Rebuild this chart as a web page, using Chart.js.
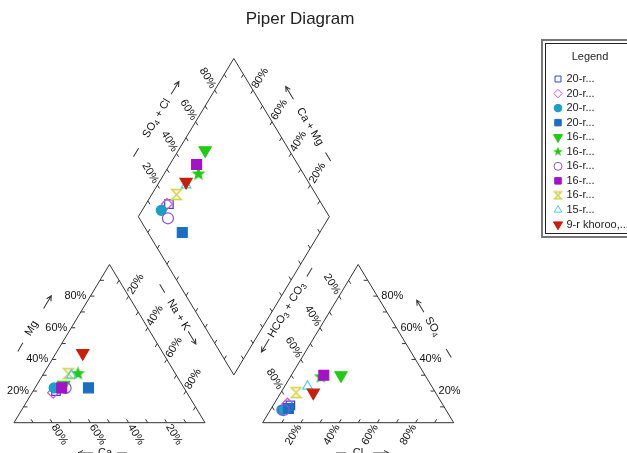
<!DOCTYPE html>
<html>
<head>
<meta charset="utf-8">
<title>Piper Diagram</title>
<script src="https://cdn.jsdelivr.net/npm/chart.js@4.4.1/dist/chart.umd.min.js"></script>
<style>
  html, body { margin: 0; padding: 0; background: #fff; }
  #wrap { position: relative; width: 627px; height: 453px; }
</style>
</head>
<body>
<div id="wrap"><canvas id="piperChart"></canvas></div>
<script>
// legend names (truncated like in the original)
const sampleNames = ['20-r...', '20-r...', '20-r...', '20-r...', '16-r...', '16-r...',
                     '16-r...', '16-r...', '16-r...', '15-r...', '9-r khoroo,...'];

// cations, % meq
const caPct   = [68, 70, 68, 50, 62, 51, 62, 64, 56, 55, 42];
const mgPct   = [20, 19, 22, 22, 24, 31, 22, 22, 31, 30, 44];
const naKPct  = [12, 11, 10, 28, 14, 18, 16, 14, 13, 15, 14];

// anions, % meq
const hco3Pct = [80, 81, 86, 82, 44, 55, 85, 53, 73, 65, 64];
const so4Pct  = [11, 12,  8,  9, 30, 29,  8, 30, 19, 23, 19];
const clPct   = [ 9,  7,  6,  9, 26, 16,  7, 17,  8, 12, 17];

const tickPcts = [20, 40, 60, 80];

// marker look per sample
const markerColors = ['#3346cc', '#dd4fcc', '#19a0c6', '#1b6fc2', '#1fcc12', '#1fcc12',
                      '#8a4fdc', '#a412c6', '#d2d24a', '#45cfe6', '#c81f0c'];
const markerFilled = [false, false, true, true, true, true, false, true, false, false, true];

// ---- geometry (in "percent" units) ----
const SIN60 = Math.sin(Math.PI / 3);
const H = 100 * SIN60;          // triangle height
const GAP = 30.2;               // space between the two triangles
const G = 100 + GAP;            // x of the anion triangle's left corner
const B = [100 + GAP / 2, GAP * SIN60];   // diamond bottom corner

// pixel frame of the picture: where percent units land on the canvas
const PX0 = 14, PY0 = 422.7, SX = 1.91, SY = 1.827;
const W = 627, HT = 453;

function makeStar(r) {
    const c = document.createElement('canvas');
    c.width = c.height = Math.ceil(r * 2 + 2);
    const g = c.getContext('2d');
    const cx = c.width / 2, cy = c.height / 2;
    g.beginPath();
    for (let i = 0; i < 10; i++) {
        const rr = i % 2 === 0 ? r : r * 0.42;
        const a = -Math.PI / 2 + i * Math.PI / 5;
        g.lineTo(cx + rr * Math.cos(a), cy + rr * Math.sin(a));
    }
    g.closePath();
    g.fillStyle = '#1fcc12';
    g.fill();
    return c;
}

function makeHourglass(r) {
    const c = document.createElement('canvas');
    c.width = c.height = Math.ceil(r * 2 + 2);
    const g = c.getContext('2d');
    const a = 1.5, b = c.width - 1.5;
    g.beginPath();
    g.moveTo(a, a); g.lineTo(b, a); g.lineTo(a, b); g.lineTo(b, b); g.closePath();
    g.fillStyle = 'rgba(240,240,170,0.5)';
    g.fill();
    g.strokeStyle = '#d2d24a';
    g.lineWidth = 1.3;
    g.stroke();
    return c;
}

const bigStar = makeStar(7.5), smallStar = makeStar(5);
const bigGlass = makeHourglass(5.5), smallGlass = makeHourglass(3.8);

const markerStyles = ['rect', 'rectRot', 'circle', 'rect', 'triangle', bigStar,
                      'circle', 'rect', bigGlass, 'triangle', 'triangle'];
const legendStyles = ['rect', 'rectRot', 'circle', 'rect', 'triangle', smallStar,
                      'circle', 'rect', smallGlass, 'triangle', 'triangle'];
const markerRot = [0, 0, 0, 0, 180, 0, 0, 0, 0, 0, 180];
const markerRadius = [6, 5.5, 5, 7, 7, 7, 5.5, 7, 6, 5.5, 7];
const legendRadius = [4.2, 4.2, 3.8, 4.6, 5.2, 5, 4, 4.6, 4, 4.4, 5.2];

// ---- sample points ----
function cationPoint(i) {
    return { x: naKPct[i] + 0.5 * mgPct[i], y: SIN60 * mgPct[i] };
}
function anionPoint(i) {
    return { x: G + clPct[i] + 0.5 * so4Pct[i], y: SIN60 * so4Pct[i] };
}
function diamondPoint(i) {
    const a = caPct[i] + mgPct[i];
    const b = so4Pct[i] + clPct[i];
    return { x: B[0] + 0.5 * (b - a), y: B[1] + SIN60 * (a + b) };
}

const frame = (pts) => ({
    data: pts.map(p => ({ x: p[0], y: p[1] })),
    showLine: true, pointRadius: 0, pointHoverRadius: 0,
    borderColor: '#333', borderWidth: 1, fill: false, order: 100
});

const datasets = [
    frame([[0, 0], [100, 0], [50, H], [0, 0]]),
    frame([[G, 0], [G + 100, 0], [G + 50, H], [G, 0]]),
    frame([B, [B[0] - 50, B[1] + H], [B[0], B[1] + 2 * H], [B[0] + 50, B[1] + H], B])
];

sampleNames.forEach((name, i) => {
    datasets.push({
        label: name,
        data: [cationPoint(i), anionPoint(i), diamondPoint(i)],
        pointStyle: markerStyles[i],
        rotation: markerRot[i],
        pointRadius: markerRadius[i],
        pointHoverRadius: markerRadius[i],
        backgroundColor: markerFilled[i] ? markerColors[i] : 'rgba(0,0,0,0)',
        borderColor: markerColors[i],
        borderWidth: 1.2,
        showLine: false,
        order: 20 - i
    });
});

// ---- axes of the three plots ----
// "out" points away from the plot along the grid line of that axis (labels go there),
// ticks are drawn the other way, into the plot
const FONT = '11px Arial, "Liberation Sans", sans-serif';
const edges = [
    { at: k => [100 - k, 0], out: [0.5, -SIN60], labels: true },                        // Ca
    { at: k => [0.5 * k, SIN60 * k], out: [-1, 0], labels: true },                      // Mg
    { at: k => [k + 0.5 * (100 - k), SIN60 * (100 - k)], out: [0.5, SIN60], labels: true }, // Na + K
    { at: k => [G + k, 0], out: [-0.5, -SIN60], labels: true },                          // Cl
    { at: k => [G + 100 - 0.5 * k, SIN60 * k], out: [1, 0], labels: true },             // SO4
    { at: k => [G + 0.5 * (100 - k), SIN60 * (100 - k)], out: [-0.5, SIN60], labels: true }, // HCO3
    { at: k => [B[0] - 50 + 0.5 * k, B[1] + H + SIN60 * k], out: [-0.5, SIN60], labels: true }, // SO4 + Cl
    { at: k => [B[0] + 50 - 0.5 * k, B[1] + H + SIN60 * k], out: [0.5, SIN60], labels: true },  // Ca + Mg
    { at: k => [B[0] - 0.5 * k, B[1] + SIN60 * k], out: [-0.5, -SIN60], labels: false },
    { at: k => [B[0] + 0.5 * k, B[1] + SIN60 * k], out: [0.5, -SIN60], labels: false }
];

const UR = 'upRight', DR = 'downRight';
const axisTitles = [
    { parts: [['Mg']], c: [31.7, 328.3], dir: UR, dash: [-27, -17], arrow: [23, 38] },
    { parts: [['Na + K']], c: [178.3, 315], dir: DR, dash: [-36, -26], arrow: [19, 34] },
    { parts: [['SO'], ['4', 1], [' + Cl']], c: [156.7, 118.3], dir: UR, dash: [-45, -35], arrow: [28, 43] },
    { parts: [['Ca + Mg']], c: [310, 126.7], dir: DR, dash: [30, 40], arrow: [-32, -47] },
    { parts: [['HCO'], ['3', 1], [' + CO'], ['3', 1]], c: [286.7, 310], dir: UR, dash: [39, 49], arrow: [-34, -49] },
    { parts: [['SO'], ['4', 1]], c: [432.7, 326.7], dir: DR, dash: [26, 36], arrow: [-17, -31] },
    { parts: [['Ca']], c: [105, 453], dir: 'flat', dash: [12, 22], arrow: [-12, -27] },
    { parts: [['Cl']], c: [358, 453], dir: 'flat', dash: [-22, -12], arrow: [15, 31] }
];

function drawRich(ctx, parts) {
    const widths = parts.map(p => {
        ctx.font = p[1] ? '8px Arial, "Liberation Sans", sans-serif' : FONT;
        return ctx.measureText(p[0]).width;
    });
    let x = -widths.reduce((s, w) => s + w, 0) / 2;
    parts.forEach((p, j) => {
        ctx.font = p[1] ? '8px Arial, "Liberation Sans", sans-serif' : FONT;
        ctx.fillText(p[0], x, p[1] ? 3 : 0);
        x += widths[j];
    });
}

const piperDecor = {
    id: 'piperDecor',
    beforeDatasetsDraw(chart) {
        const ctx = chart.ctx;
        const xs = chart.scales.x, ys = chart.scales.y;
        const toPx = (u, v) => [xs.getPixelForValue(u), ys.getPixelForValue(v)];
        const dirPx = (d) => {
            const p0 = toPx(0, 0), p1 = toPx(d[0], d[1]);
            const dx = p1[0] - p0[0], dy = p1[1] - p0[1];
            const l = Math.hypot(dx, dy);
            return [dx / l, dy / l];
        };
        ctx.save();
        ctx.strokeStyle = '#333';
        ctx.lineWidth = 1;
        ctx.fillStyle = '#111';
        ctx.font = FONT;
        edges.forEach(e => {
            const n = dirPx(e.out);
            for (let k = 10; k < 100; k += 10) {
                const p = toPx(...e.at(k));
                ctx.beginPath();
                ctx.moveTo(p[0], p[1]);
                ctx.lineTo(p[0] - n[0] * 4, p[1] - n[1] * 4);
                ctx.stroke();
            }
            if (!e.labels) return;
            const forward = n[0] > 0.01 || (Math.abs(n[0]) <= 0.01);
            const ang = forward ? Math.atan2(n[1], n[0]) : Math.atan2(-n[1], -n[0]);
            const gap = Math.abs(n[1]) < 0.01 ? 4 : 3;
            tickPcts.forEach(k => {
                const p = toPx(...e.at(k));
                ctx.save();
                ctx.translate(p[0] + n[0] * gap, p[1] + n[1] * gap);
                ctx.rotate(ang);
                ctx.textAlign = forward ? 'left' : 'right';
                ctx.textBaseline = 'middle';
                ctx.fillText(k + '%', 0, 0);
                ctx.restore();
            });
        });

        // axis titles with dash and arrow
        const upRight = dirPx([0.5, SIN60]);
        const downRight = dirPx([0.5, -SIN60]);
        axisTitles.forEach(t => {
            const d = t.dir === UR ? upRight : t.dir === DR ? downRight : [1, 0];
            ctx.save();
            ctx.translate(t.c[0], t.c[1]);
            ctx.rotate(Math.atan2(d[1], d[0]));
            ctx.textAlign = 'left';
            ctx.textBaseline = 'middle';
            drawRich(ctx, t.parts);
            ctx.beginPath();
            ctx.moveTo(t.dash[0], 0); ctx.lineTo(t.dash[1], 0);
            ctx.moveTo(t.arrow[0], 0); ctx.lineTo(t.arrow[1], 0);
            const s = Math.sign(t.arrow[1] - t.arrow[0]);
            ctx.moveTo(t.arrow[1] - s * 5, -2.5); ctx.lineTo(t.arrow[1], 0); ctx.lineTo(t.arrow[1] - s * 5, 2.5);
            ctx.stroke();
            ctx.restore();
        });
        ctx.restore();
    },
    afterDraw(chart) {
        const ctx = chart.ctx;
        ctx.save();
        // title
        ctx.fillStyle = '#222';
        ctx.font = '17px Arial, "Liberation Sans", sans-serif';
        ctx.textAlign = 'center';
        ctx.textBaseline = 'middle';
        ctx.fillText('Piper Diagram', 300, 19);

        // legend box
        ctx.strokeStyle = '#777';
        ctx.lineWidth = 2;
        ctx.strokeRect(542, 40, 100, 197);
        ctx.strokeStyle = '#222';
        ctx.lineWidth = 1;
        ctx.strokeRect(545.5, 43.5, 100, 190);
        ctx.fillStyle = '#222';
        ctx.font = FONT;
        ctx.fillText('Legend', 590, 57);
        ctx.textAlign = 'left';
        sampleNames.forEach((name, i) => {
            const y = 79 + i * 14.55;
            ctx.fillStyle = markerFilled[i] ? markerColors[i] : 'rgba(0,0,0,0)';
            ctx.strokeStyle = markerColors[i];
            ctx.lineWidth = 1;
            Chart.helpers.drawPoint(ctx, {
                pointStyle: legendStyles[i], rotation: markerRot[i],
                radius: legendRadius[i], borderWidth: 1
            }, 558, y);
            ctx.fillStyle = '#222';
            ctx.fillText(name, 566.5, y);
        });
        ctx.restore();
    }
};

new Chart(document.getElementById('piperChart'), {
    type: 'scatter',
    data: { datasets: datasets },
    options: {
        responsive: true,
        maintainAspectRatio: false,
        animation: false,
        devicePixelRatio: 1,
        events: [],
        layout: { padding: 0, autoPadding: false },
        scales: {
            x: { type: 'linear', display: false, min: -PX0 / SX, max: (W - PX0) / SX },
            y: { type: 'linear', display: false, min: (PY0 - HT) / SY, max: PY0 / SY }
        },
        plugins: {
            legend: { display: false },
            title: { display: false },
            tooltip: { enabled: false }
        }
    },
    plugins: [piperDecor]
});
</script>
</body>
</html>
